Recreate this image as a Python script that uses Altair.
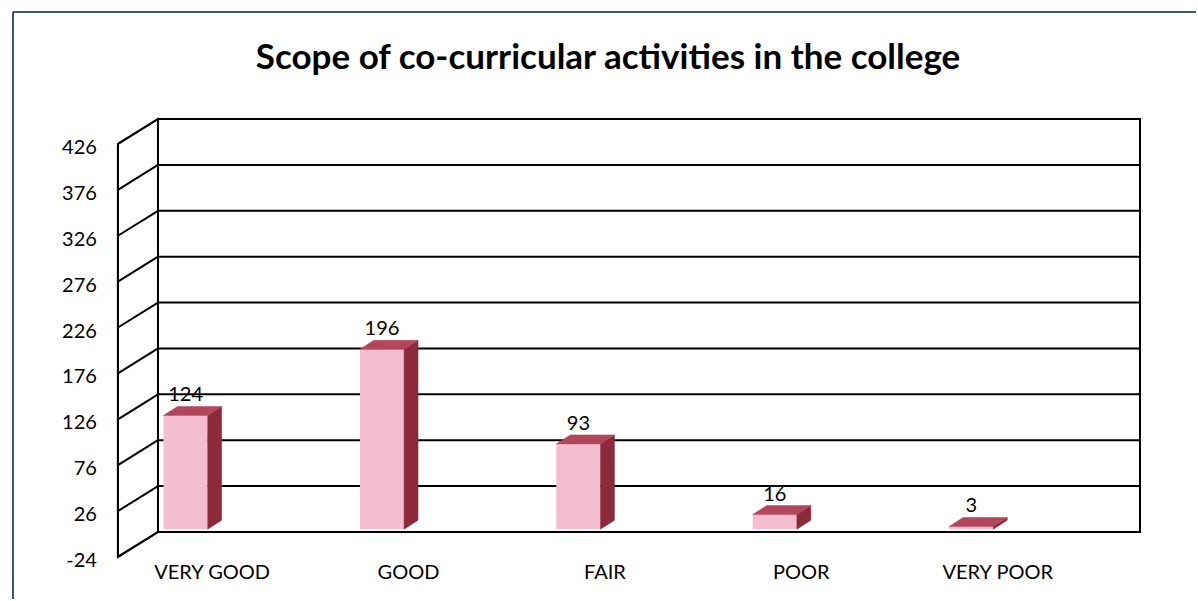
import altair as alt
import pandas as pd

# ---- data ----
categories = ["VERY GOOD", "GOOD", "FAIR", "POOR", "VERY POOR"]
values = [124, 196, 93, 16, 3]
y_ticks = [-24, 26, 76, 126, 176, 226, 276, 326, 376, 426]
title_text = "Scope of co-curricular activities in the college"

# ---- 3D styling constants (data units of the back wall) ----
W, H = 982, 413
Y_MIN, Y_MAX = -24, 426
WALL_DX = 0.204      # depth of the side wall, x units
WALL_DY = 27.2       # depth of the side wall, y units
BAR_L, BAR_R = 0.028, 0.253
BAR_DX, BAR_DY = 0.071, 9.8
BASE = -21

FRONT = "#F4BDD0"
SIDE = "#8C2A3B"
TOP = "#B2475C"
FONT = "Lato"
FS = 20

# ---- derived tables ----
front_rows, side_rows, top_rows = [], [], []
for i, (c, v) in enumerate(zip(categories, values)):
    xl, xr = i + BAR_L, i + BAR_R
    t = BASE + v
    front_rows.append(dict(cat=c, x=xl, x2=xr, y=BASE, y2=t, xc=(xl + xr) / 2, label=str(v)))
    side_rows += [dict(cat=c, x=xr, lo=BASE, hi=t),
                  dict(cat=c, x=xr + BAR_DX, lo=BASE + BAR_DY, hi=t + BAR_DY)]
    top_rows += [dict(cat=c, x=xl, lo=t, hi=t),
                 dict(cat=c, x=xl + BAR_DX, lo=t, hi=t + BAR_DY),
                 dict(cat=c, x=xr, lo=t, hi=t + BAR_DY),
                 dict(cat=c, x=xr + BAR_DX, lo=t + BAR_DY, hi=t + BAR_DY)]
front_df = pd.DataFrame(front_rows)
side_df = pd.DataFrame(side_rows)
top_df = pd.DataFrame(top_rows)

n = len(categories)
grid_df = pd.DataFrame({"x": [0] * len(y_ticks), "x2": [n] * len(y_ticks), "y": y_ticks})
wall_df = pd.DataFrame({"x": [-WALL_DX] * len(y_ticks), "x2": [0] * len(y_ticks),
                        "y": [t - WALL_DY for t in y_ticks], "y2": y_ticks,
                        "label": [str(t) for t in y_ticks]})
# outline of the left side wall (front edge -> back edge)
panel_df = pd.DataFrame({"x": [-WALL_DX, 0],
                         "lo": [min(y_ticks) - WALL_DY, min(y_ticks)],
                         "hi": [max(y_ticks) - WALL_DY, max(y_ticks)]})
cat_df = pd.DataFrame({"x": [i + 0.5 - WALL_DX for i in range(n)],
                       "y": [Y_MIN - WALL_DY] * n, "label": categories})
one = pd.DataFrame({"a": [0]})

xs = alt.Scale(domain=[0, n], nice=False, zero=False)
ys = alt.Scale(domain=[Y_MIN, Y_MAX], nice=False, zero=False)


def X(f):
    return alt.X(f, scale=xs, axis=None)


def Y(f):
    return alt.Y(f, scale=ys, axis=None)


def ypx(v):
    return H * (Y_MAX - v) / (Y_MAX - Y_MIN)


grid = alt.Chart(grid_df).mark_rule(color="black", strokeWidth=2).encode(
    x=X("x:Q"), x2="x2", y=Y("y:Q"))

wall = alt.Chart(wall_df).mark_rule(color="black", strokeWidth=2).encode(
    x=X("x:Q"), x2="x2", y=Y("y:Q"), y2="y2")

panel = alt.Chart(panel_df).mark_area(orient="vertical", fill="white", fillOpacity=0,
                                      stroke="black", strokeWidth=2).encode(
    x=X("x:Q"), y=Y("lo:Q"), y2="hi")

# front edge of the side wall as a pixel-space decoration derived from the wall geometry
edge = alt.Chart(one).mark_rule(color="black", strokeWidth=2).encode(
    x=alt.value(-WALL_DX * W / n),
    y=alt.value(ypx(max(y_ticks) - WALL_DY)),
    y2=alt.value(ypx(min(y_ticks) - WALL_DY)))

ylabels = alt.Chart(wall_df).mark_text(fontSize=FS, font=FONT, color="black", align="right",
                                       baseline="middle", dx=-21, dy=4).encode(
    x=X("x:Q"), y=Y("y:Q"), text="label:N")

xlabels = alt.Chart(cat_df).mark_text(fontSize=FS, font=FONT, color="black", align="center",
                                      baseline="middle", dx=-4, dy=16).encode(
    x=X("x:Q"), y=Y("y:Q"), text="label:N")

front = alt.Chart(front_df).mark_rect(color=FRONT).encode(
    x=X("x:Q"), x2="x2", y=Y("y:Q"), y2="y2")

side = alt.Chart(side_df).mark_area(color=SIDE, orient="vertical", stroke=SIDE, strokeWidth=0.5).encode(
    x=X("x:Q"), y=Y("lo:Q"), y2="hi", detail="cat:N")

top = alt.Chart(top_df).mark_area(color=TOP, orient="vertical", stroke=TOP, strokeWidth=0.5).encode(
    x=X("x:Q"), y=Y("lo:Q"), y2="hi", detail="cat:N")

labels = alt.Chart(front_df).mark_text(fontSize=FS, font=FONT, color="black", dy=-20,
                                       baseline="middle", align="center").encode(
    x=X("xc:Q"), y=Y("y2:Q"), text="label:N")

frame_top = alt.Chart(one).mark_rule(color="#3b5577", strokeWidth=2).encode(
    x=alt.value(-145), x2=alt.value(1038), y=alt.value(-107))
frame_left = alt.Chart(one).mark_rule(color="#3b5577", strokeWidth=2).encode(
    x=alt.value(-145), y=alt.value(-107), y2=alt.value(480))

title = alt.Chart(one).mark_text(text=title_text, fontSize=35, font=FONT, fontWeight="bold",
                                 color="black", align="center", baseline="middle").encode(
    x=alt.value(450), y=alt.value(-61))

chart = alt.layer(frame_top, frame_left, title, grid, wall, panel, edge, ylabels, xlabels,
                  front, side, top, labels).properties(
    width=W, height=H,
    background="white",
    autosize=alt.AutoSizeParams(type="none"),
    padding={"left": 158, "top": 119, "right": 58, "bottom": 69},
).configure_view(stroke="black", strokeWidth=2)

chart.save("out.html", embed_options={"renderer": "svg", "actions": False})
